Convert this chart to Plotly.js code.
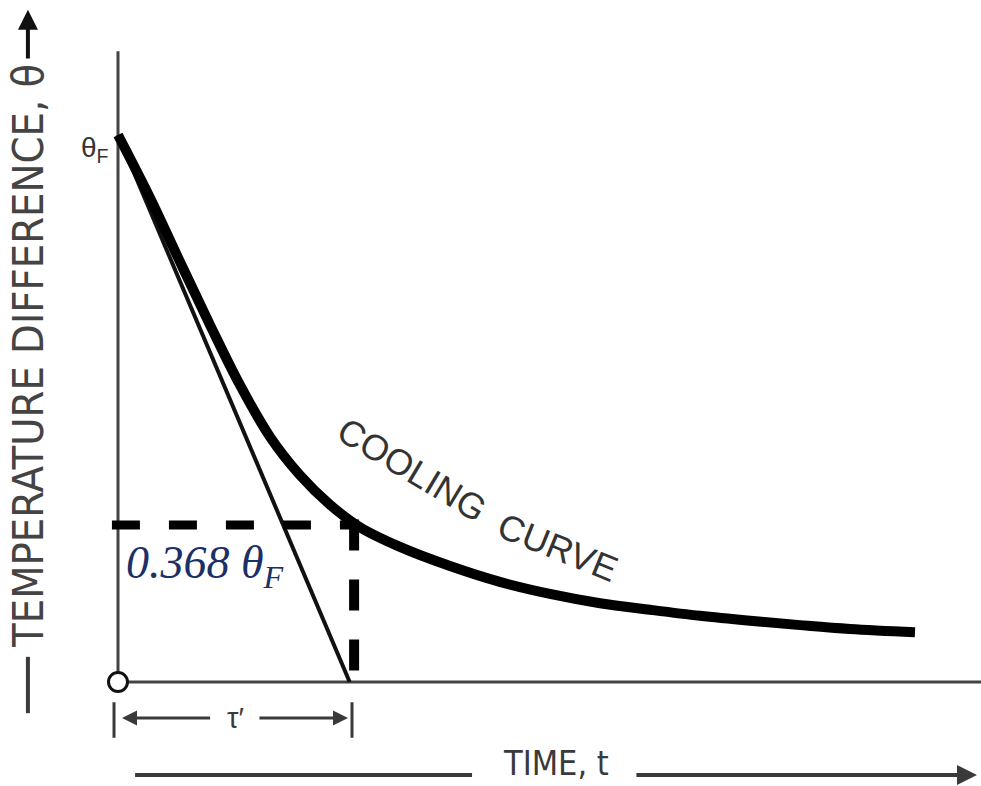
<!DOCTYPE html>
<html><head><meta charset="utf-8">
<script src="https://cdn.plot.ly/plotly-3.0.1.min.js"></script>
<style>html,body{margin:0;padding:0;background:#fff}</style>
</head><body><div id="chart" style="width:981px;height:786px"></div>
<script>
// Cooling curve: time in units of tau', theta as fraction of theta_F
const coolingTime  = [0, 0.137, 0.265, 0.393, 0.521, 0.650, 0.778, 0.906, 1.034, 1.205, 1.419, 1.632, 1.846, 2.060, 2.274, 2.487, 2.701, 2.915, 3.128, 3.406];
const coolingTheta = [1.0, 0.885, 0.768, 0.653, 0.543, 0.448, 0.378, 0.324, 0.283, 0.247, 0.212, 0.183, 0.161, 0.144, 0.132, 0.121, 0.112, 0.104, 0.097, 0.091];
// Initial tangent line
const tangentTime  = [0, 0.99];
const tangentTheta = [1, 0];
// Reference marks
const thetaF = 1;
const tauPrime = 1.0;
const markTime = 1.009;       // drawn position of the vertical dashed line
const markLevel = 0.287;      // drawn level of the "0.368 θF" line
const markStart = -0.026;
const axisXEnd = 3.7;
const axisYTop = 1.153;
// Dimension (tau') row and axis-title rows
const dimLevel = -0.066;
const dimBarLow = -0.102, dimBarHigh = -0.037;
const dimBarLeft = -0.017;
const timeRowLevel = -0.170;
const timeTextBottom = -0.1885;
const timeLeftLine = [0.073, 1.513];
const timeRightLine = [2.209, 3.671];
const yTitleTime = -0.385;
const yTitleDash = [-0.057, 0.046];
const yTitleArrow = [1.137, 1.229];

const ink = '#111';
const grey = '#3a3a3a';

const traces = [
  // axes
  {x: [0, axisXEnd], y: [0, 0], mode: 'lines', line: {color: '#444', width: 3}},
  {x: [0, 0], y: [0, axisYTop], mode: 'lines', line: {color: '#444', width: 3}},
  // tangent
  {x: tangentTime, y: tangentTheta, mode: 'lines', line: {color: ink, width: 4}},
  // cooling curve
  {x: coolingTime, y: coolingTheta, mode: 'lines', line: {color: '#000', width: 10, shape: 'spline', smoothing: 1}},
  // dashed marks
  {x: [markStart, markTime + 0.02], y: [markLevel, markLevel], mode: 'lines', line: {color: '#000', width: 9, dash: '28px,29px'}},
  {x: [markTime, markTime], y: [markLevel + 0.01, -0.005], mode: 'lines', line: {color: '#000', width: 10, dash: '31px,29px'}},
  // origin circle
  {x: [0], y: [0], mode: 'markers', marker: {symbol: 'circle', size: 19, color: '#fff', line: {color: '#111', width: 3}}},
  // tau' bars
  {x: [dimBarLeft, dimBarLeft], y: [dimBarLow, dimBarHigh], mode: 'lines', line: {color: grey, width: 3}},
  {x: [tauPrime, tauPrime], y: [dimBarLow, dimBarHigh], mode: 'lines', line: {color: grey, width: 3}},
  // time row left line
  {x: timeLeftLine, y: [timeRowLevel, timeRowLevel], mode: 'lines', line: {color: grey, width: 4}},
  // y title bottom dash
  {x: [yTitleTime, yTitleTime], y: yTitleDash, mode: 'lines', line: {color: grey, width: 4}}
];

const annotations = [
  {x: -0.028, y: 0.974, xref: 'x', yref: 'y', text: 'θ<sub>F</sub>', showarrow: false, xanchor: 'right', yanchor: 'middle',
   font: {family: 'Liberation Sans, Arial, sans-serif', size: 28, color: '#333'}},
  {x: 0.025, y: 0.212, xref: 'x', yref: 'y', text: '<i>0.368 θ<sub>F</sub></i>', showarrow: false, xanchor: 'left', yanchor: 'middle',
   font: {family: 'Liberation Serif, Times New Roman, serif', size: 46, color: '#1c2f66'}},
  {x: 1.255, y: 0.388, xref: 'x', yref: 'y', text: 'COOLING', showarrow: false, textangle: 31,
   font: {family: 'Liberation Sans, Arial, sans-serif', size: 36, color: '#333'}},
  {x: 1.880, y: 0.245, xref: 'x', yref: 'y', text: 'CURVE', showarrow: false, textangle: 22,
   font: {family: 'Liberation Sans, Arial, sans-serif', size: 36, color: '#333'}},
  // tau' dimension
  {x: 0.5, y: dimLevel, xref: 'x', yref: 'y', text: 'τ′', showarrow: false,
   font: {family: 'Liberation Sans, Arial, sans-serif', size: 29, color: grey}},
  {x: 0.017, y: dimLevel, ax: 0.40, ay: dimLevel, xref: 'x', yref: 'y', axref: 'x', ayref: 'y', text: '', showarrow: true,
   arrowhead: 2, arrowsize: 1, arrowwidth: 3, arrowcolor: grey},
  {x: 0.983, y: dimLevel, ax: 0.598, ay: dimLevel, xref: 'x', yref: 'y', axref: 'x', ayref: 'y', text: '', showarrow: true,
   arrowhead: 2, arrowsize: 1, arrowwidth: 3, arrowcolor: grey},
  // time label
  {x: 1.870, y: timeTextBottom, xref: 'x', yref: 'y', yanchor: 'bottom', text: 'TIME, t', showarrow: false,
   font: {family: 'Liberation Sans Narrow, DejaVu Sans Condensed, Arial Narrow, sans-serif', size: 34, color: grey}},
  {x: timeRightLine[1], y: timeRowLevel, ax: timeRightLine[0], ay: timeRowLevel, xref: 'x', yref: 'y', axref: 'x', ayref: 'y', text: '', showarrow: true,
   arrowhead: 2, arrowsize: 1, arrowwidth: 4, arrowcolor: grey},
  // y title
  {x: yTitleTime, y: 0.596, xref: 'x', yref: 'y', text: 'TEMPERATURE DIFFERENCE, θ', showarrow: false, textangle: -90,
   font: {family: 'Liberation Sans Narrow, DejaVu Sans Condensed, Arial Narrow, sans-serif', size: 43, color: '#444'}},
  {x: yTitleTime, y: yTitleArrow[1], ax: yTitleTime, ay: yTitleArrow[0], xref: 'x', yref: 'y', axref: 'x', ayref: 'y', text: '', showarrow: true,
   arrowhead: 2, arrowsize: 1, arrowwidth: 4, arrowcolor: ink}
];

const layout = {
  width: 981, height: 786,
  margin: {l: 0, r: 0, t: 0, b: 0},
  paper_bgcolor: '#fff', plot_bgcolor: '#fff',
  showlegend: false,
  xaxis: {range: [-118/234, 863/234], visible: false, fixedrange: true},
  yaxis: {range: [-104/547, 682/547], visible: false, fixedrange: true},
  annotations: annotations
};

Plotly.newPlot('chart', traces.map(t => Object.assign({hoverinfo: 'skip', cliponaxis: false}, t)), layout, {staticPlot: true, displayModeBar: false});
</script>
</body></html>
